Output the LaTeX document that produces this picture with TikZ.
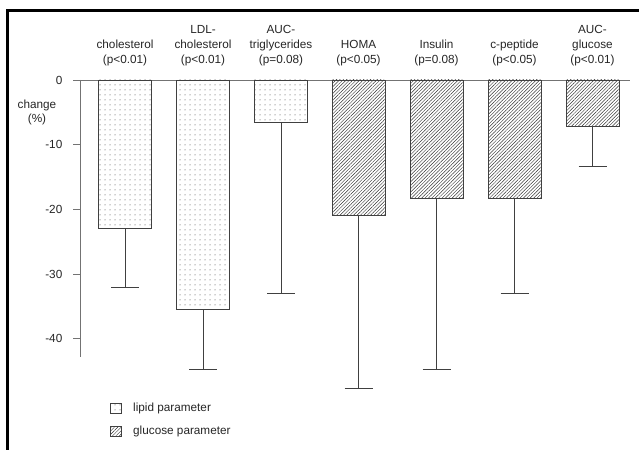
\documentclass[tikz,border=0pt]{standalone}
\usepackage{fontspec}
\setmainfont{Liberation Sans}
\usetikzlibrary{patterns.meta, positioning}

\begin{document}
\begin{tikzpicture}[x=1bp, y=-1bp,
    bar/.style={draw=black!75, line width=0.8bp, inner sep=0pt, outer sep=0pt,
                minimum width=53bp, anchor=north},
    lipid/.style={bar, pattern={Dots[distance=5bp, radius=0.5bp]}, pattern color=black!80},
    glucose/.style={bar, pattern={Lines[angle=45, distance=2.4bp, line width=0.45bp]},
                    pattern color=black!80},
    err/.style={draw=black!75, line width=0.8bp},
    axis/.style={draw=black!55, line width=0.8bp},
    lbl/.style={font=\fontsize{11.8}{15}\selectfont, align=center, inner sep=0pt,
                anchor=south, text=black!85},
    tick/.style={font=\fontsize{11.8}{13}\selectfont, anchor=east, inner sep=0pt, text=black!85}
  ]
    \useasboundingbox (0,0) rectangle (639,450);
    % frame
    \draw[line width=3bp] (7,450) -- (7,10.5) -- (639,10.5);
    % axes
    \draw[axis] (80,80) -- (80,357);
    \draw[axis] (73,80) -- (630,80);
    \foreach \t in {0,10,20,30,40} {
      \draw[axis] (73,{80+6.47*\t}) -- (80,{80+6.47*\t});
      \node[tick] (t\t) at (62.5,{80+6.47*\t}) {\ifnum\t=0 0\else -\t\fi};
    }
    \node[font=\fontsize{11.8}{14}\selectfont, align=center, inner sep=0pt, text=black!85]
      (ylab) at (37,112.5) {change\\(\%)};
    % bars with error bars
    \foreach \n/\x/\v/\e/\kind/\txt in {
        1/125/22.9/32.0/lipid/{cholesterol\\(p<0.01)},
        2/203/35.5/44.7/lipid/{LDL-\\cholesterol\\(p<0.01)},
        3/281/6.5/33.0/lipid/{AUC-\\triglycerides\\(p=0.08)},
        4/358.5/21.0/47.6/glucose/{HOMA\\(p<0.05)},
        5/436.5/18.3/44.8/glucose/{Insulin\\(p=0.08)},
        6/514.5/18.3/33.0/glucose/{c-peptide\\(p<0.05)},
        7/592.5/7.2/13.4/glucose/{AUC-\\glucose\\(p<0.01)}} {
      \pgfmathsetmacro\h{6.47*\v}
      \pgfmathsetmacro\d{6.47*(\e-\v)}
      \node[\kind, minimum height=\h bp] (b\n) at (\x,80) {};
      \draw[err] (b\n.south) -- ++(0,\d) coordinate (e\n);
      \draw[err] ([xshift=-14bp]e\n) -- ([xshift=14bp]e\n);
      \node[lbl] (l\n) at (\x,66) {\txt};
    }
    % legend
    \node[lipid, anchor=center, minimum width=11bp, minimum height=10bp] (k1) at (115.5,408) {};
    \node[glucose, anchor=center, minimum width=11bp, minimum height=10bp] (k2) at (115.5,431) {};
    \node[tick, anchor=west, right=12bp of k1] (k1t) {lipid parameter};
    \node[tick, anchor=west, right=12bp of k2] (k2t) {glucose parameter};
  \end{tikzpicture}
\end{document}
